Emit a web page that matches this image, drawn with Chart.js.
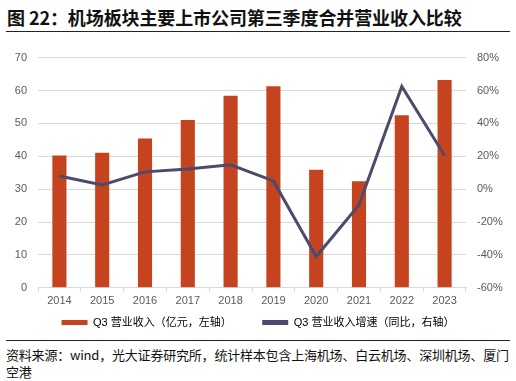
<!DOCTYPE html>
<html>
<head>
<meta charset="utf-8">
<script src="https://cdn.jsdelivr.net/npm/chart.js@4.4.1/dist/chart.umd.min.js"></script>
<style>
    body { margin: 0; background: #fff; width: 516px; height: 381px; position: relative; overflow: hidden; font-family: "Noto Sans CJK SC", sans-serif; }
    #title { position: absolute; left: 7px; top: 4px; font-size: 18px; font-weight: bold; color: #111; white-space: nowrap; letter-spacing: -0.1px; }
    .rule { position: absolute; left: 6px; width: 504px; height: 0; border-top: 1px solid #222; }
    #chartBox { position: absolute; left: 0; top: 40px; width: 516px; height: 298px; }
    #source { position: absolute; left: 6px; top: 346px; width: 512px; font-size: 13px; line-height: 17px; letter-spacing: -0.2px; color: #111; }
</style>
</head>
<body>
<div id="title">图 22：机场板块主要上市公司第三季度合并营业收入比较</div>
<div class="rule" style="top:31px"></div>
<div id="chartBox"><canvas id="chart"></canvas></div>
<div class="rule" style="top:340px"></div>
<div id="source">资料来源：wind，光大证券研究所，统计样本包含上海机场、白云机场、深圳机场、厦门空港</div>
<script>
const years = ["2014", "2015", "2016", "2017", "2018", "2019", "2020", "2021", "2022", "2023"];
const revenue = [40.2, 41.1, 45.4, 51.0, 58.4, 61.3, 35.9, 32.4, 52.5, 63.2];
const growth = [8.0, 2.5, 10.5, 12.3, 14.8, 5.0, -41.0, -9.6, 62.5, 20.5];
const revenueLabel = "Q3 营业收入（亿元，左轴）";
const growthLabel = "Q3 营业收入增速（同比，右轴）";

const barColor = "#C5441F";
const lineColor = "#4B4B6D";
const tickColor = "#595959";
const gridColor = "#D9D9D9";
const tickFont = { family: "'Liberation Sans', Arial, sans-serif", size: 11 };

const ctx = document.getElementById("chart").getContext("2d");
new Chart(ctx, {
    data: {
        labels: years,
        datasets: [
            {
                type: "bar",
                label: revenueLabel,
                data: revenue,
                backgroundColor: barColor,
                borderWidth: 0,
                barPercentage: 0.33,
                categoryPercentage: 1,
                yAxisID: "y",
                order: 1
            },
            {
                type: "line",
                label: growthLabel,
                data: growth,
                borderColor: lineColor,
                backgroundColor: lineColor,
                borderWidth: 3,
                pointRadius: 0,
                tension: 0,
                yAxisID: "y1",
                order: 0
            }
        ]
    },
    options: {
        responsive: true,
        maintainAspectRatio: false,
        animation: false,
        layout: { padding: { top: 16, left: 0, right: 0, bottom: 0 } },
        plugins: {
            tooltip: { enabled: false },
            legend: {
                position: "bottom",
                labels: {
                    boxWidth: 26,
                    boxHeight: 5,
                    padding: 6,
                    color: tickColor,
                    font: { family: "'Liberation Sans', 'Noto Sans CJK SC', sans-serif", size: 11 },
                    sort: (a, b) => a.datasetIndex - b.datasetIndex,
                    generateLabels: function(chart) {
                        // trailing spaces widen the gap between the two items
                        return chart.data.datasets.map((ds, i) => ({
                            text: i === 0 ? ds.label + "\u00a0\u00a0\u00a0\u00a0\u00a0\u00a0\u00a0\u00a0" : ds.label,
                            fillStyle: ds.type === "bar" ? barColor : lineColor,
                            strokeStyle: ds.type === "bar" ? barColor : lineColor,
                            lineWidth: 0,
                            hidden: false,
                            datasetIndex: i
                        }));
                    }
                }
            }
        },
        scales: {
            x: {
                offset: true,
                grid: { drawOnChartArea: false, drawTicks: true, tickLength: 4, color: gridColor, offset: true },
                border: { color: gridColor },
                ticks: { color: tickColor, font: tickFont, padding: 3, maxRotation: 0 }
            },
            y: {
                position: "left",
                min: 0,
                max: 70,
                ticks: { stepSize: 10, color: tickColor, font: tickFont, padding: 11 },
                grid: { color: gridColor, drawTicks: false },
                border: { display: false },
                afterFit: function(scale) { scale.width = 38; }
            },
            y1: {
                position: "right",
                min: -60,
                max: 80,
                ticks: { stepSize: 20, color: tickColor, font: tickFont, padding: 11, callback: v => v + "%" },
                grid: { drawOnChartArea: false, drawTicks: false },
                border: { display: false },
                afterFit: function(scale) { scale.width = 50; }
            }
        }
    }
});
</script>
</body>
</html>
